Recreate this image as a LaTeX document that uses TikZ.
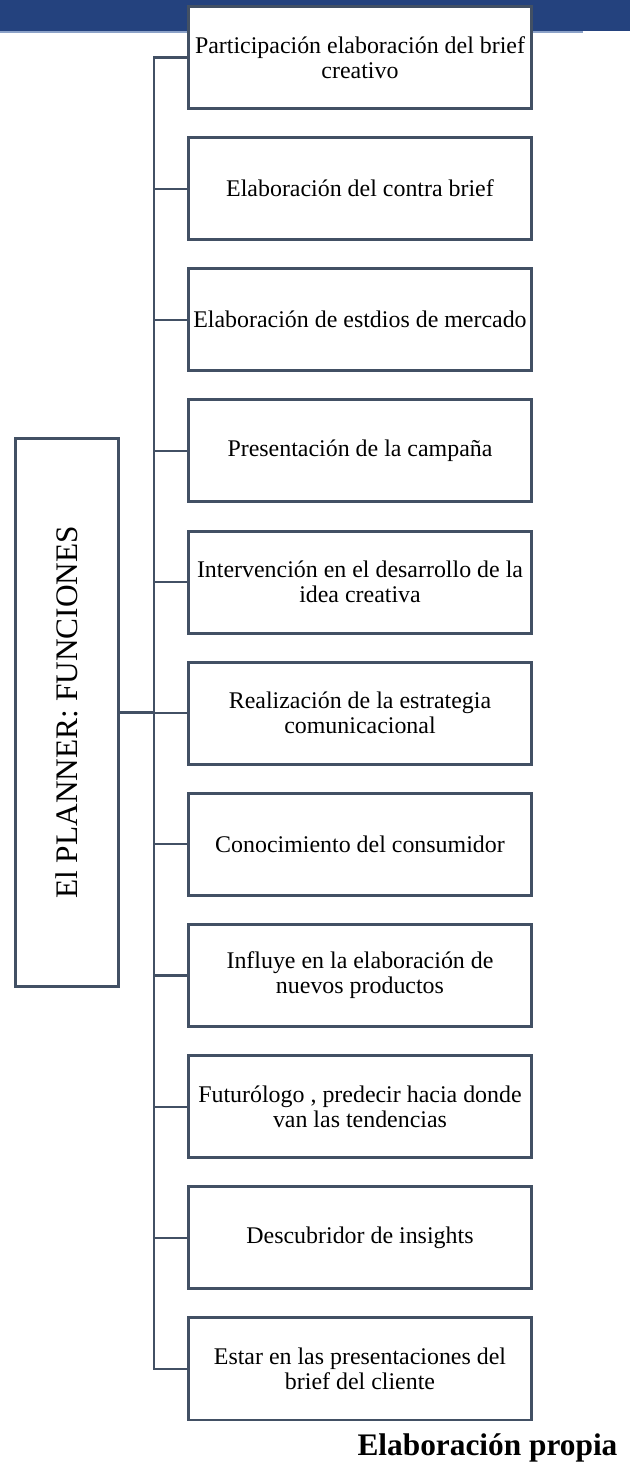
\documentclass[tikz,border=0pt]{standalone}
\usepackage{fontspec}
\setmainfont{Liberation Serif}
\usetikzlibrary{positioning}
\definecolor{linegray}{RGB}{66,80,100}
\definecolor{barblue}{RGB}{36,66,126}
\definecolor{barlight}{RGB}{140,162,200}

\begin{document}
\begin{tikzpicture}[node distance=7.7mm,
  fbox/.style={rectangle,draw=linegray,line width=2.2pt,fill=white,minimum width=90.7mm,minimum height=27mm,outer sep=0pt,align=center,font=\fontsize{18pt}{18.75pt}\selectfont},
  titlebox/.style={rectangle,draw=linegray,line width=2.2pt,minimum width=145mm,minimum height=27.3mm,outer sep=0pt,rotate=90,font=\fontsize{23.6pt}{28pt}\selectfont},
  link/.style={draw=linegray,line width=1.6pt}]
  \useasboundingbox (0,0) rectangle (166.7mm,-387.1mm);
  % banner at the top of the page
  \fill[barblue] (0,0) rectangle (166.7mm,-8.2mm);
  \fill[barlight] (0,-8.2mm) rectangle (154.3mm,-8.7mm);
  \coordinate (tr) at (40.75mm,0);
  \node[titlebox] (plan) at (17.73mm,-188.5mm) {El PLANNER: FUNCIONES};
  \node[fbox] (f1) at (95.25mm,-15.21mm) {Participación elaboración del brief\\creativo};
  \node[fbox] (f2) [below=of f1] {Elaboración del contra brief};
  \node[fbox] (f3) [below=of f2] {Elaboración de estdios de mercado};
  \node[fbox] (f4) [below=of f3] {Presentación de la campaña};
  \node[fbox] (f5) [below=of f4] {Intervención en el desarrollo de la\\idea creativa};
  \node[fbox] (f6) [below=of f5] {Realización de la estrategia\\comunicacional};
  \node[fbox] (f7) [below=of f6] {Conocimiento del consumidor};
  \node[fbox] (f8) [below=of f7] {Influye en la elaboración de\\nuevos productos};
  \node[fbox] (f9) [below=of f8] {Futurólogo , predecir hacia donde\\van las tendencias};
  \node[fbox] (f10) [below=of f9] {Descubridor de insights};
  \node[fbox] (f11) [below=of f10] {Estar en las presentaciones del\\brief del cliente};
  \node[anchor=base east,font=\bfseries\fontsize{23.6pt}{28pt}\selectfont] (src) at (164.6mm,-385.2mm) {Elaboración propia};
  % connectors
  \draw[link,line width=2pt] (f1.west) -- (f1.west -| tr) -- (f11.west -| tr) -- (f11.west);
  \draw[link,line width=2.2pt] (plan.south) -- (plan.south -| tr);
  \draw[link] (f2.west) -- (f2.west -| tr);
  \draw[link] (f3.west) -- (f3.west -| tr);
  \draw[link] (f4.west) -- (f4.west -| tr);
  \draw[link] (f5.west) -- (f5.west -| tr);
  \draw[link] (f6.west) -- (f6.west -| tr);
  \draw[link] (f7.west) -- (f7.west -| tr);
  \draw[link] (f8.west) -- (f8.west -| tr);
  \draw[link] (f9.west) -- (f9.west -| tr);
  \draw[link] (f10.west) -- (f10.west -| tr);
\end{tikzpicture}
\end{document}
